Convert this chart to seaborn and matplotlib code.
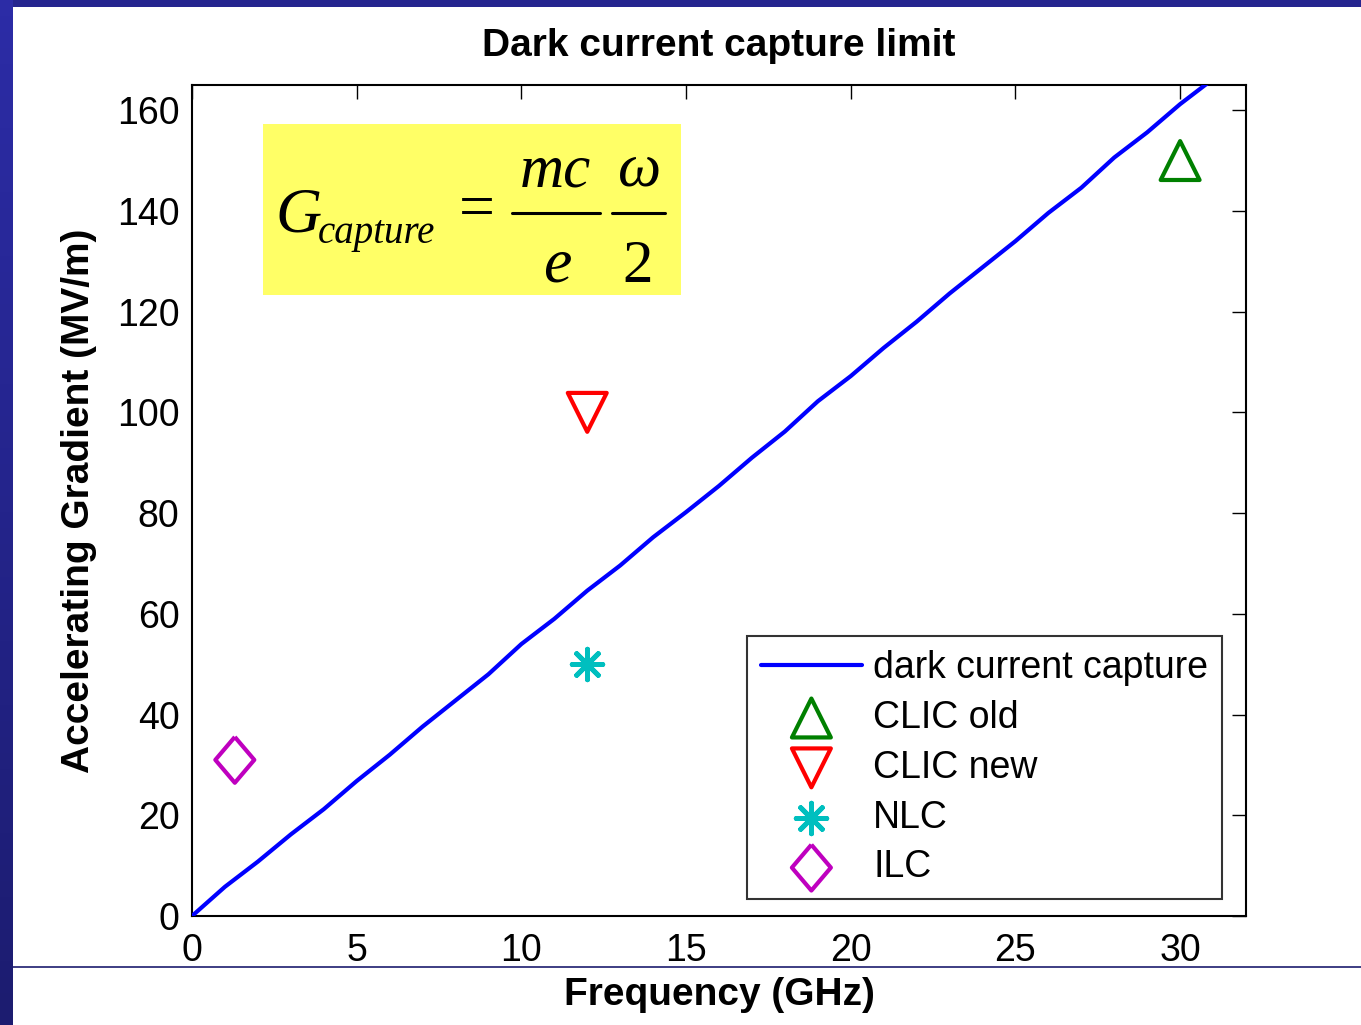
import matplotlib
matplotlib.use("Agg")
import matplotlib.pyplot as plt
from matplotlib.patches import Rectangle
from matplotlib.lines import Line2D
import numpy as np
import pandas as pd
import seaborn as sns

# dark current capture curve
freq = [0, 1, 2, 3, 4, 5, 6, 7, 8, 9, 10, 11, 12, 13, 14, 15, 16, 17, 18, 19, 20,
        21, 22, 23, 24, 25, 26, 27, 28, 29, 30, 31]
grad = [0, 5.8, 10.8, 16.2, 21.2, 26.8, 32.0, 37.6, 42.8, 48.0, 54.0, 59.0, 64.6,
        69.6, 75.2, 80.2, 85.4, 91.0, 96.2, 102.2, 107.2, 112.8, 118.0, 123.6, 128.8,
        134.0, 139.6, 144.6, 150.6, 155.6, 161.2, 166.2]

# machines
machines = ["CLIC old", "CLIC new", "NLC", "ILC"]
m_freq = [30.0, 12.0, 12.0, 1.3]
m_grad = [150.0, 100.0, 50.0, 31.0]
m_color = ["#008000", "#ff0000", "#00bfbf", "#bf00bf"]

# matlab-like diamond (a bit narrower than tall)
diamond = [(0, 1), (0.85, 0), (0, -1), (-0.85, 0), (0, 1)]
m_marker = ["^", "v", (8, 2, 0), diamond]
m_size = [28, 28, 22, 33]

sns.set_style("white")
plt.rcParams["font.family"] = ["Liberation Sans", "DejaVu Sans"]
for k in ["text.color", "axes.labelcolor", "xtick.color", "ytick.color"]:
    plt.rcParams[k] = "black"

W, H = 1361, 1025
fig = plt.figure(figsize=(W / 100, H / 100), dpi=100)
fig.patch.set_facecolor("white")


def P(x, y):
    # pixel position (from top left) -> figure fraction
    return x / W, 1 - y / H


# slide decoration
grad_ax = fig.add_axes([0, 0, 13 / W, 1])
grad_ax.imshow(np.linspace(1, 0, 64).reshape(-1, 1), aspect="auto",
               cmap=matplotlib.colors.LinearSegmentedColormap.from_list(
                   "slide", ["#1c1c70", "#2c2ca6"]))
grad_ax.set_axis_off()
fig.add_artist(Rectangle((13 / W, 1 - 7 / H), 1, 7 / H, transform=fig.transFigure,
                         facecolor="#25258f", edgecolor="none"))
fig.add_artist(Line2D([13 / W, 1], [1 - 967 / H] * 2, transform=fig.transFigure,
                      color="#1c1c6e", lw=1.2))

ax = fig.add_axes([192 / W, 1 - 916 / H, (1246 - 192) / W, (916 - 85) / H])

df = pd.DataFrame({"freq": freq, "grad": grad})
sns.lineplot(data=df, x="freq", y="grad", ax=ax, color="#0000ff", lw=3,
             label="dark current capture", zorder=3)

for name, x, y, c, mk, ms in zip(machines, m_freq, m_grad, m_color, m_marker, m_size):
    star = isinstance(mk, tuple)
    sns.scatterplot(x=[x], y=[y], ax=ax, marker=mk, s=ms ** 2,
                    facecolors=c if star else "none", edgecolor=c, color=c,
                    linewidth=3.5 if star else 3, label=name, zorder=4)

ax.set_xlim(0, 32)
ax.set_ylim(0, 165)
ax.set_xticks(range(0, 31, 5))
ax.set_yticks(range(0, 161, 20))
ax.tick_params(direction="in", length=10, width=1, top=True, right=True,
               labelsize=27)
ax.tick_params(axis="x", pad=12)
ax.tick_params(axis="y", pad=9)
for s in ax.spines.values():
    s.set_visible(True)
    s.set_color("black")
    s.set_linewidth(1.5)

ax.set_title("Dark current capture limit", fontsize=28, fontweight="bold", pad=21)
ax.set_xlabel("Frequency (GHz)", fontsize=28, fontweight="bold", labelpad=6)
ax.set_ylabel("Accelerating Gradient (MV/m)", fontsize=28, fontweight="bold", labelpad=14)

leg = ax.legend(loc="lower right", bbox_to_anchor=(0.977, 0.0205), fontsize=27,
                frameon=True, fancybox=False, edgecolor="black", handlelength=2.7,
                handletextpad=0.3, labelspacing=0.37, borderpad=0.36, borderaxespad=0)
leg.get_frame().set_linewidth(1.5)

# formula box
bx0, bx1 = (263 - 192) / 1054, (681 - 192) / 1054
by0, by1 = (916 - 295) / 831, (916 - 124) / 831
ax.add_patch(Rectangle((bx0, by0), bx1 - bx0, by1 - by0, transform=ax.transAxes,
                       facecolor="#ffff66", edgecolor="none", zorder=5))

serif = dict(family="Liberation Serif", style="italic", color="black")
fig.text(*P(275, 232), "G", fontsize=46, ha="left", va="baseline", **serif)
fig.text(*P(318, 243), "capture", fontsize=28, ha="left", va="baseline", **serif)
fig.text(*P(477, 212), "=", fontsize=46, ha="center", va="center",
         family="Liberation Serif", color="black")
fig.text(*P(555, 187), "mc", fontsize=44, ha="center", va="baseline", **serif)
fig.text(*P(557, 282), "e", fontsize=46, ha="center", va="baseline", **serif)
fig.text(*P(640, 186), "\u03c9", fontsize=44, ha="center", va="baseline", **serif)
fig.text(*P(638, 282), "2", fontsize=44, ha="center", va="baseline",
         family="Liberation Serif", color="black")
for x0, x1 in [(512, 600), (612, 665)]:
    fig.add_artist(Line2D([x0 / W, x1 / W], [1 - 213 / H] * 2,
                          transform=fig.transFigure, color="black", lw=2.2))

fig.savefig("out.png", dpi=100)
